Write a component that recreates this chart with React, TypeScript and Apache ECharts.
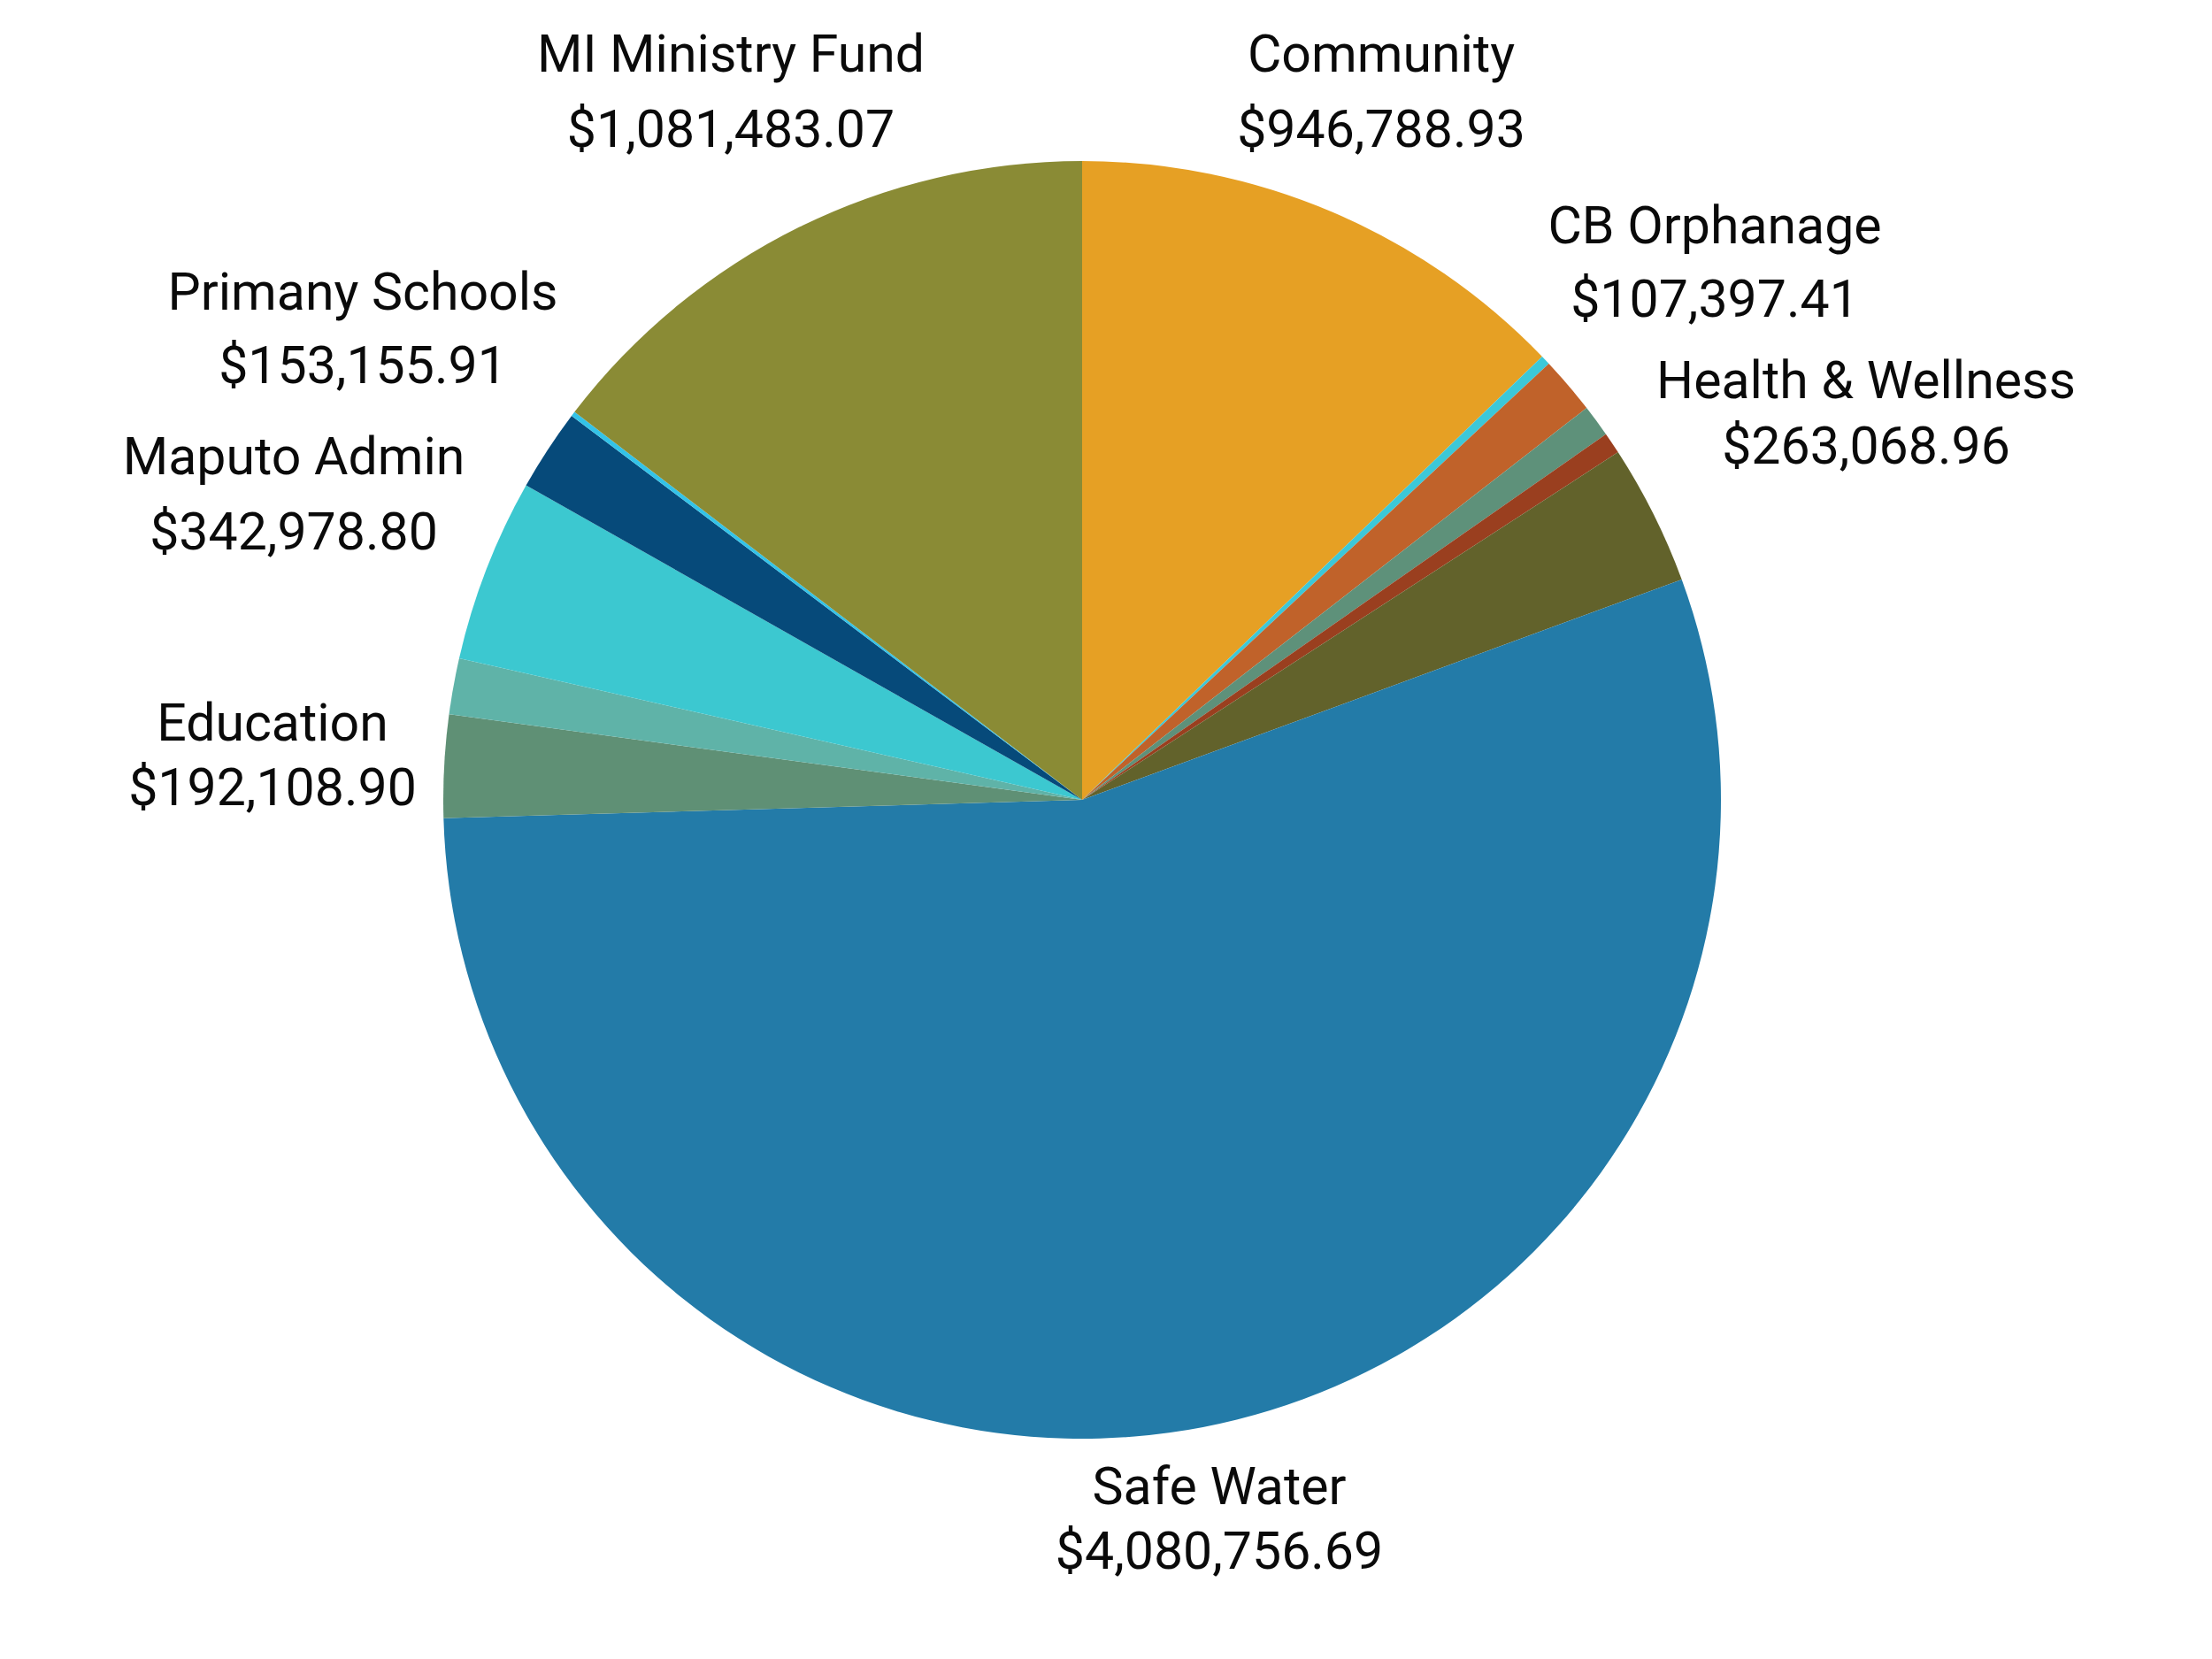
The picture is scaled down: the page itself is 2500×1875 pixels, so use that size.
import React, { useEffect, useRef } from "react";
import * as echarts from "echarts";

const categories = [
  "Community",
  "Other A",
  "CB Orphanage",
  "Other B",
  "Other C",
  "Health & Wellness",
  "Safe Water",
  "Education",
  "Other D",
  "Maputo Admin",
  "Primany Schools",
  "Other E",
  "MI Ministry Fund",
];

const amounts = [
  946788.93, 18000, 107397.41, 60000, 40000, 263068.96, 4080756.69, 192108.9,
  105000, 342978.8, 153155.91, 9000, 1081483.07,
];

const showLabel = [true, false, true, false, false, true, true, true, false, true, true, false, true];

const sliceColors = [
  "#E6A024",
  "#3CC8D8",
  "#C0622A",
  "#5E917A",
  "#9A3F1F",
  "#62622B",
  "#237BA8",
  "#5F9075",
  "#5FB3A8",
  "#3CC8D0",
  "#064A7A",
  "#33C3E8",
  "#8A8B35",
];

// label anchor positions and line spacing (layout only)
const labelAnchors: Record<string, [number, number, number]> = {
  "MI Ministry Fund": [826, 103, 85],
  Community: [1561, 103, 85],
  "CB Orphanage": [1938, 296, 83],
  "Health & Wellness": [2109, 466, 74],
  "Primany Schools": [410, 371, 83],
  "Maputo Admin": [332, 558, 85],
  Education: [308, 853, 73],
  "Safe Water": [1378, 1716, 73],
};

const fmt = (v: number) =>
  "$" + v.toLocaleString("en-US", { minimumFractionDigits: 2, maximumFractionDigits: 2 });

export default function App() {
  const ref = useRef<HTMLDivElement>(null);
  useEffect(() => {
    document.body.style.margin = "0";
    const chart = echarts.init(ref.current!, null, { renderer: "svg" });
    chart.setOption({
      animation: false,
      backgroundColor: "#ffffff",
      series: [
        {
          type: "pie",
          center: [1223, 904],
          radius: 722,
          startAngle: 90,
          clockwise: true,
          avoidLabelOverlap: false,
          itemStyle: { borderWidth: 0 },
          label: {
            show: true,
            position: "outside",
            color: "#0a0a0a",
            fontFamily: "Roboto",
            fontSize: 59,
            lineHeight: 84,
            align: "center",
            formatter: (p: any) => `${p.name}\n${fmt(p.value)}`,
          },
          labelLine: { show: false },
          labelLayout: (params: any) => {
            const name = categories[params.dataIndex];
            const a = labelAnchors[name];
            if (!a) return {};
            return { x: a[0], y: a[1], align: "center", verticalAlign: "middle" };
          },
          data: categories.map((n, i) => {
            const a = labelAnchors[n];
            return {
              name: n,
              value: amounts[i],
              itemStyle: { color: sliceColors[i] },
              label: a ? { show: showLabel[i], lineHeight: a[2] } : { show: false },
            };
          }),
        },
      ],
    });
    return () => chart.dispose();
  }, []);
  return <div ref={ref} style={{ width: 2500, height: 1875 }} />;
}
